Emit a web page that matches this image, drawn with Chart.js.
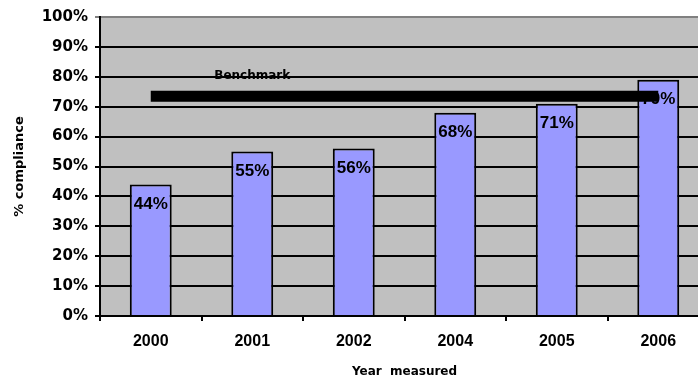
<!DOCTYPE html>
<html>
<head>
<meta charset="utf-8">
<script src="https://cdn.jsdelivr.net/npm/chart.js@4/dist/chart.umd.min.js"></script>
<style>
  html, body { margin: 0; padding: 0; background: #fff; overflow: hidden; }
  #wrap { width: 709px; height: 381px; position: relative; }
</style>
</head>
<body>
<div id="wrap"><canvas id="c"></canvas></div>
<script>
// Compliance by year, with the benchmark level drawn across all years
const years = ['2000', '2001', '2002', '2004', '2005', '2006'];
const compliance = [44, 55, 56, 68, 71, 79];
const benchmark = [73.5, 73.5, 73.5, 73.5, 73.5, 73.5];
const benchmarkLabel = 'Benchmark';
const yTicks = [0, 10, 20, 30, 40, 50, 60, 70, 80, 90, 100];

const plotBg = {
  id: 'plotBg',
  beforeDraw(chart) {
    const { ctx, chartArea: a, scales } = chart;
    ctx.save();
    ctx.fillStyle = '#C0C0C0';
    ctx.fillRect(a.left, a.top, a.right - a.left, a.bottom - a.top);
    // benchmark caption above the line, at the second year
    ctx.fillStyle = '#000';
    ctx.font = 'bold 12px "DejaVu Sans"';
    ctx.textAlign = 'center';
    ctx.textBaseline = 'middle';
    ctx.fillText(benchmarkLabel, scales.x.getPixelForValue(1), scales.y.getPixelForValue(80.4));
    ctx.restore();
  }
};

const barLabels = {
  id: 'barLabels',
  afterDatasetDraw(chart, args) {
    if (args.meta.type !== 'bar') return;
    const { ctx } = chart;
    ctx.save();
    ctx.fillStyle = '#000';
    ctx.font = 'bold 17px "Liberation Sans", Arial, sans-serif';
    ctx.textAlign = 'center';
    ctx.textBaseline = 'middle';
    args.meta.data.forEach((bar, i) => {
      ctx.fillText(compliance[i] + '%', bar.x, bar.y + 20);
    });
    ctx.restore();
  }
};

new Chart(document.getElementById('c'), {
  data: {
    labels: years,
    datasets: [
      {
        type: 'line',
        label: benchmarkLabel,
        data: benchmark,
        borderColor: '#000',
        borderWidth: 11,
        borderCapStyle: 'butt',
        pointRadius: 0,
        fill: false,
        order: 0
      },
      {
        type: 'bar',
        label: '% compliance',
        data: compliance,
        backgroundColor: '#9999FF',
        borderColor: '#000',
        borderWidth: 2,
        barPercentage: 0.413,
        categoryPercentage: 1,
        order: 1
      }
    ]
  },
  options: {
    responsive: true,
    maintainAspectRatio: false,
    animation: false,
    layout: { padding: { top: 17, right: 0, bottom: 0, left: 0 } },
    plugins: {
      legend: { display: false },
      tooltip: { enabled: false }
    },
    scales: {
      x: {
        afterFit(scale) { scale.height = 65; },
        grid: {
          drawOnChartArea: false,
          drawTicks: true,
          tickLength: 5,
          color: '#000',
          lineWidth: 2
        },
        border: { color: '#000', width: 2 },
        ticks: {
          color: '#000',
          padding: 11,
          font: { family: '"Liberation Sans", Arial, sans-serif', size: 16, weight: 'bold' }
        },
        title: {
          display: true,
          text: 'Year  measured',
          color: '#000',
          padding: { top: 0, bottom: 2 },
          font: { family: '"DejaVu Sans"', size: 12, weight: 'bold' }
        }
      },
      y: {
        min: 0,
        max: 100,
        afterFit(scale) { scale.width = 100; },
        afterBuildTicks(scale) { scale.ticks = yTicks.map(v => ({ value: v })); },
        grid: {
          color: ctx => (ctx.tick && ctx.tick.value === 100 ? '#808080' : '#000'),
          lineWidth: 2,
          tickLength: 5
        },
        border: { color: '#000', width: 2 },
        ticks: {
          color: '#000',
          padding: 7,
          callback: v => v + '%',
          font: { family: '"DejaVu Sans"', size: 15, weight: 'bold' }
        },
        title: {
          display: true,
          text: '% compliance',
          color: '#000',
          padding: { top: 12, bottom: 0 },
          font: { family: '"DejaVu Sans"', size: 13, weight: 'bold' }
        }
      }
    }
  },
  plugins: [plotBg, barLabels]
});
</script>
</body>
</html>
